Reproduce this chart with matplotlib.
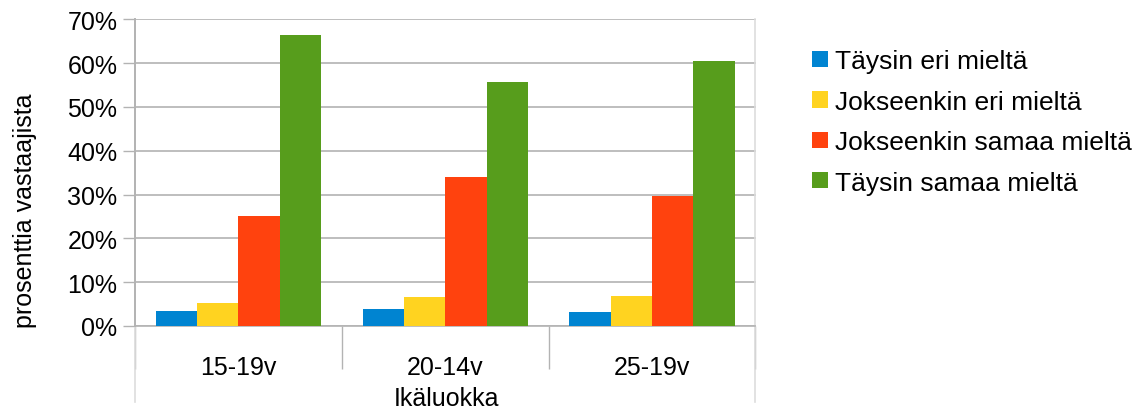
import matplotlib
matplotlib.use("Agg")
import matplotlib.pyplot as plt
import numpy as np
from matplotlib.ticker import FixedLocator, PercentFormatter

plt.rcParams['font.family'] = ['Liberation Sans', 'DejaVu Sans']

categories = ["15-19v", "20-14v", "25-19v"]
series_names = ["Täysin eri mieltä", "Jokseenkin eri mieltä",
                "Jokseenkin samaa mieltä", "Täysin samaa mieltä"]
tays_eri = [3.4, 3.9, 3.2]
jok_eri = [5.3, 6.6, 6.9]
jok_samaa = [25.1, 34.0, 29.7]
tays_samaa = [66.4, 55.7, 60.5]
values = [tays_eri, jok_eri, jok_samaa, tays_samaa]
colors = ["#0084D1", "#FFD320", "#FF420E", "#579D1C"]
y_ticks = [0, 10, 20, 30, 40, 50, 60, 70]

W, H = 1142, 410
fig = plt.figure(figsize=(W / 100, H / 100), dpi=100)
L, R, T, B = 135, 755.5, 20.3, 327
ax = fig.add_axes([L / W, 1 - B / H, (R - L) / W, (B - T) / H])

FS = 18
LFS = 19
grid_c = "#b3b3b3"
light_c = "#dddddd"

x = np.arange(len(categories))
bw = 0.2
handles = []
for i, (vals, col, name) in enumerate(zip(values, colors, series_names)):
    b = ax.bar(x + (i - 1.5) * bw, vals, width=bw, color=col, label=name,
               zorder=3, linewidth=0)
    handles.append(b)

ax.set_xlim(-0.5, len(categories) - 0.5)
ax.set_ylim(0, 70)
ax.yaxis.set_major_locator(FixedLocator(y_ticks))
ax.yaxis.set_major_formatter(PercentFormatter(decimals=0))
ax.grid(axis='y', color=grid_c, linewidth=1.2, zorder=0)
ax.set_axisbelow(True)

# x ticks: boundaries as long outward ticks, labels at centers
ax.set_xticks(np.arange(len(categories) + 1) - 0.5)
ax.set_xticklabels([])
ax.set_xticks(x, minor=True)
ax.set_xticklabels(categories, minor=True, fontsize=FS)
ax.tick_params(axis='x', which='major', direction='out', length=31,
               color=grid_c, width=1)
ax.tick_params(axis='x', which='minor', length=0, pad=21)
ax.tick_params(axis='y', direction='out', length=8.6, color=grid_c,
               width=1, labelsize=FS, pad=4)

for s in ['top', 'right']:
    ax.spines[s].set_visible(False)
ax.spines['left'].set_color(grid_c)
ax.spines['bottom'].set_color(grid_c)
ax.spines['left'].set_linewidth(1.2)
ax.spines['bottom'].set_linewidth(1.2)

# outer light boundary lines extending below the axis
ext = -(403 - B) / (B - T)
for xb in [-0.5, len(categories) - 0.5]:
    ax.plot([xb, xb], [1, ext], transform=ax.get_xaxis_transform(),
            color=light_c, linewidth=1.2, clip_on=False, zorder=1)
ax.plot([-0.5, -0.5], [1, 0], transform=ax.get_xaxis_transform(),
        color=grid_c, linewidth=1.2, clip_on=False, zorder=2)

fig.text(446 / W, 1 - 399 / H, "Ikäluokka", ha='center', va='center',
         fontsize=FS)
fig.text(25 / W, 1 - 211 / H, "prosenttia vastaajista", ha='center',
         va='center', rotation=90, fontsize=FS)

fig.legend(handles=handles, labels=series_names, loc='upper left',
           bbox_to_anchor=(812 / W, 1 - 50.5 / H), frameon=False,
           fontsize=LFS, handlelength=0.6, handleheight=0.58,
           handletextpad=0.28, labelspacing=0.62, borderpad=0,
           borderaxespad=0)

fig.savefig("out.png", dpi=100)
